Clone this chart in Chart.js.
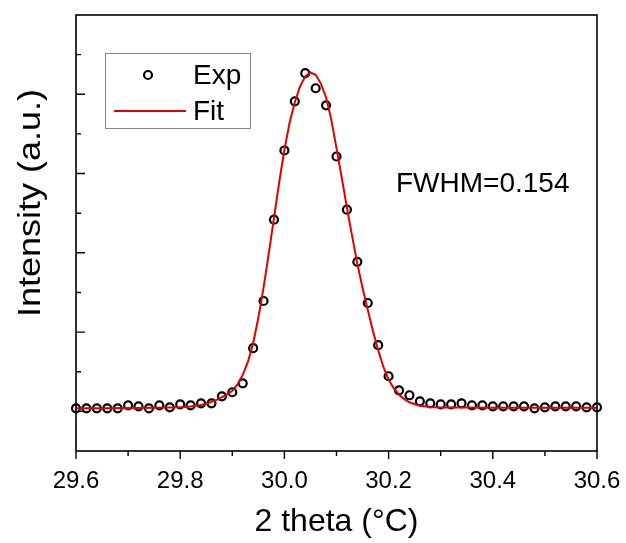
<!DOCTYPE html>
<html>
<head>
<meta charset="utf-8">
<style>
  body { margin: 0; background: #fff; }
  #wrap { width: 626px; height: 543px; }
</style>
<script src="https://cdn.jsdelivr.net/npm/chart.js"></script>
</head>
<body>
<div id="wrap"><canvas id="xrdChart" width="626" height="543"></canvas></div>
<script>
// measured points (2 theta, intensity in arbitrary units)
const expX = [29.60, 29.62, 29.64, 29.66, 29.68, 29.70, 29.72, 29.74, 29.76, 29.78,
  29.80, 29.82, 29.84, 29.86, 29.88, 29.90, 29.92, 29.94, 29.96, 29.98,
  30.00, 30.02, 30.04, 30.06, 30.08, 30.10, 30.12, 30.14, 30.16, 30.18,
  30.20, 30.22, 30.24, 30.26, 30.28, 30.30, 30.32, 30.34, 30.36, 30.38,
  30.40, 30.42, 30.44, 30.46, 30.48, 30.50, 30.52, 30.54, 30.56, 30.58, 30.60];
const expY = [38, 38, 38, 38, 38, 76, 63, 38, 76, 51,
  89, 76, 101, 101, 190, 241, 354, 797, 1392, 2418,
  3291, 3911, 4266, 4076, 3861, 3215, 2544, 1886, 1367, 835,
  443, 266, 203, 127, 101, 89, 89, 101, 76, 76,
  63, 63, 63, 63, 38, 51, 63, 63, 63, 51, 51];

// fitted curve
const fitX = [29.60, 29.65, 29.70, 29.75, 29.80, 29.82, 29.84, 29.85, 29.86, 29.87,
  29.88, 29.89, 29.90, 29.91, 29.92, 29.93, 29.94, 29.95, 29.96, 29.97,
  29.98, 29.99, 30.00, 30.01, 30.02, 30.03, 30.04, 30.05, 30.06, 30.07,
  30.08, 30.09, 30.10, 30.11, 30.12, 30.13, 30.14, 30.15, 30.16, 30.17,
  30.18, 30.19, 30.20, 30.21, 30.22, 30.23, 30.24, 30.25, 30.26, 30.28,
  30.30, 30.35, 30.40, 30.45, 30.50, 30.55, 30.60];
const fitY = [40, 40, 42, 45, 52, 60, 80, 98, 120, 145,
  180, 215, 260, 340, 460, 625, 860, 1180, 1560, 1990,
  2440, 2890, 3300, 3640, 3900, 4100, 4225, 4275, 4245, 4135,
  3960, 3680, 3320, 2950, 2570, 2210, 1860, 1560, 1280, 1010,
  770, 560, 400, 290, 210, 155, 115, 90, 72, 56,
  50, 48, 47, 46, 45, 45, 45];

const xMajorTicks = [29.6, 29.8, 30.0, 30.2, 30.4, 30.6];
const xMinorTicks = [29.7, 29.9, 30.1, 30.3, 30.5];
const yMajorTicks = [0, 1000, 2000, 3000, 4000];
const yMinorTicks = [500, 1500, 2500, 3500, 4500];

const yTitle = 'Intensity (a.u.)';
const fwhmText = 'FWHM=0.154';
const FONT = 'Arial, "Liberation Sans", sans-serif';

// frame, inward/outward ticks, y title, legend box and annotation
const decor = {
  id: 'decor',
  afterDraw(chart) {
    const ctx = chart.ctx;
    const a = chart.chartArea;
    const sx = chart.scales.x, sy = chart.scales.y;
    ctx.save();
    ctx.strokeStyle = '#000';
    ctx.lineWidth = 1.6;
    ctx.strokeRect(a.left, a.top, a.right - a.left, a.bottom - a.top);

    ctx.lineWidth = 1.4;
    ctx.beginPath();
    xMajorTicks.forEach(v => {
      const px = sx.getPixelForValue(v);
      ctx.moveTo(px, a.bottom); ctx.lineTo(px, a.bottom + 8);
    });
    xMinorTicks.forEach(v => {
      const px = sx.getPixelForValue(v);
      ctx.moveTo(px, a.bottom); ctx.lineTo(px, a.bottom + 5);
    });
    yMajorTicks.forEach(v => {
      const py = sy.getPixelForValue(v);
      ctx.moveTo(a.left, py); ctx.lineTo(a.left + 9, py);
    });
    yMinorTicks.forEach(v => {
      const py = sy.getPixelForValue(v);
      ctx.moveTo(a.left, py); ctx.lineTo(a.left + 5, py);
    });
    ctx.stroke();

    ctx.fillStyle = '#000';
    // y axis title, rotated
    ctx.save();
    ctx.translate(32, 203);
    ctx.rotate(-Math.PI / 2);
    ctx.scale(1, 0.85);
    ctx.font = '36px ' + FONT;
    ctx.textAlign = 'center';
    ctx.textBaseline = 'middle';
    ctx.fillText(yTitle, 0, 0);
    ctx.restore();

    // legend
    ctx.strokeStyle = '#888';
    ctx.lineWidth = 1;
    ctx.strokeRect(105.5, 53.5, 145, 75);
    ctx.strokeStyle = '#000';
    ctx.lineWidth = 2.2;
    ctx.beginPath();
    ctx.arc(148, 75, 4, 0, Math.PI * 2);
    ctx.stroke();
    ctx.strokeStyle = '#e00000';
    ctx.lineWidth = 2;
    ctx.beginPath();
    ctx.moveTo(114, 111); ctx.lineTo(186, 111);
    ctx.stroke();
    ctx.font = '28px ' + FONT;
    ctx.textBaseline = 'middle';
    ctx.textAlign = 'left';
    ctx.fillText('Exp', 193, 76);
    ctx.fillText('Fit', 193, 112);

    ctx.font = '28px ' + FONT;
    ctx.fillText(fwhmText, 396, 184);
    ctx.restore();
  }
};

new Chart(document.getElementById('xrdChart'), {
  type: 'scatter',
  data: {
    datasets: [
      {
        label: 'Fit',
        data: fitX.map((x, i) => ({ x: x, y: fitY[i] })),
        showLine: true,
        borderColor: '#e00000',
        borderWidth: 2,
        pointRadius: 0,
        tension: 0,
        clip: false,
        order: 0
      },
      {
        label: 'Exp',
        data: expX.map((x, i) => ({ x: x, y: expY[i] })),
        showLine: false,
        pointStyle: 'circle',
        pointRadius: 4,
        pointBorderWidth: 2.2,
        pointBorderColor: '#000',
        pointBackgroundColor: 'rgba(0,0,0,0)',
        clip: false,
        order: 1
      }
    ]
  },
  options: {
    responsive: false,
    animation: false,
    layout: { padding: { left: 76, right: 29, top: 15, bottom: 2 } },
    plugins: { legend: { display: false }, tooltip: { enabled: false } },
    scales: {
      x: {
        type: 'linear',
        min: 29.6,
        max: 30.6,
        afterBuildTicks: s => { s.ticks = xMajorTicks.map(v => ({ value: v })); },
        afterFit: s => { s.height = 90; s.paddingLeft = 0; s.paddingRight = 0; },
        grid: { display: false, drawTicks: false },
        border: { display: false },
        ticks: {
          color: '#000',
          padding: 16,
          maxRotation: 0,
          font: { family: FONT, size: 24 },
          callback: v => Number(v).toFixed(1)
        },
        title: {
          display: true,
          text: '2 theta (\u00B0C)',
          color: '#000',
          font: { family: FONT, size: 32 },
          padding: { top: 0, bottom: 0 }
        }
      },
      y: {
        min: -500,
        max: 5000,
        afterFit: s => { s.width = 0; },
        grid: { display: false, drawTicks: false },
        border: { display: false },
        ticks: { display: false },
        title: { display: false }
      }
    }
  },
  plugins: [decor]
});
</script>
</body>
</html>
